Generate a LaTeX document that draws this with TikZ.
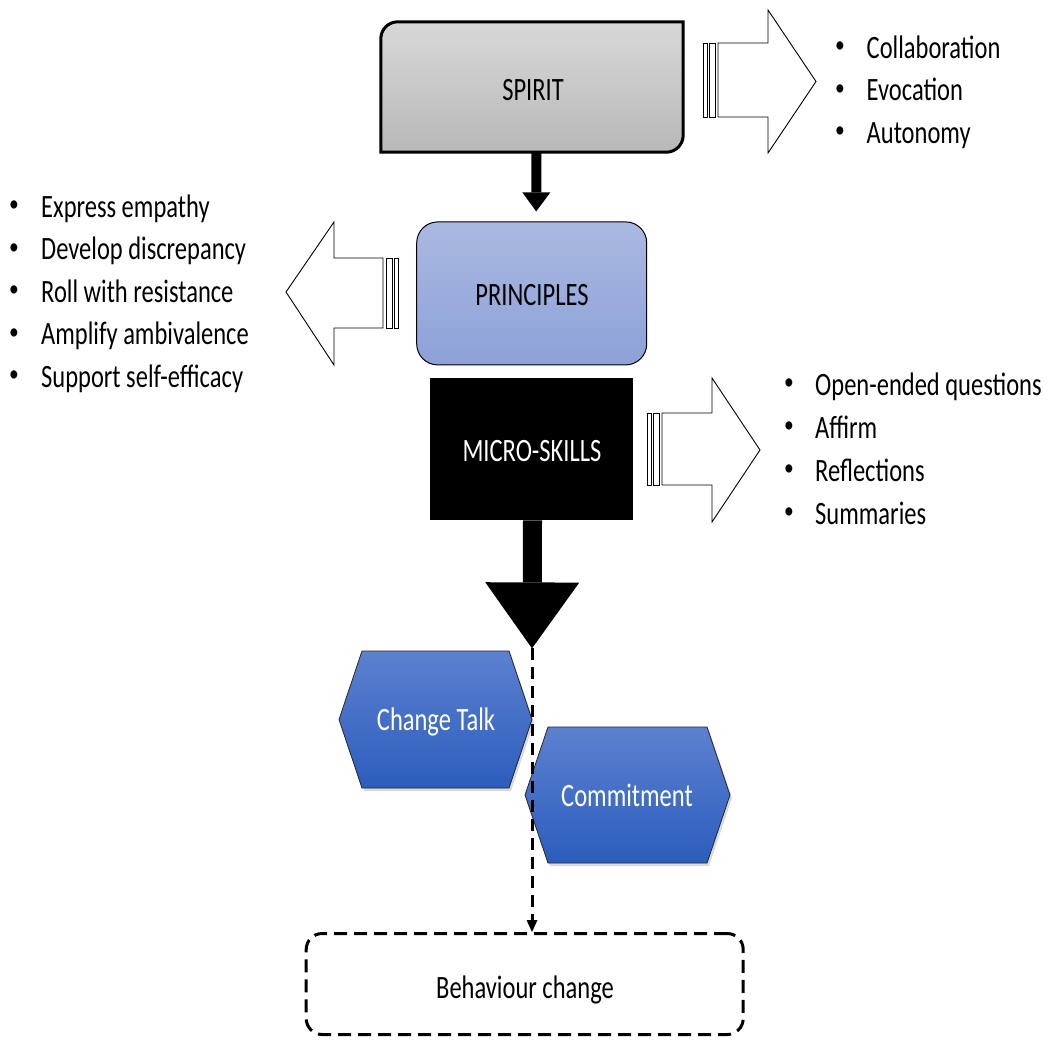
\documentclass[tikz,border=0pt]{standalone}
\usepackage{fontspec}
\setmainfont{Carlito}
\usepackage{graphicx}
\usetikzlibrary{arrows.meta,shadows,calc}

\definecolor{spiritTop}{HTML}{D8D8D8}
\definecolor{spiritBot}{HTML}{B8B8B8}
\definecolor{prinTop}{HTML}{AAB9E1}
\definecolor{prinBot}{HTML}{8DA1D8}
\definecolor{hexTop}{HTML}{5C81D0}
\definecolor{hexBot}{HTML}{2C5DBD}

% tall, narrow lettering
\newcommand\tallt[1]{\scalebox{1}[1.33]{#1}}

\begin{document}
\begin{tikzpicture}[x=1pt,y=-1pt,
  txt/.style={font=\fontsize{24.5}{29}\selectfont, inner sep=0pt, anchor=base},
  item/.style={txt, anchor=base west},
  dot/.style={font=\fontsize{19.5}{22}\selectfont, inner sep=0pt, anchor=center},
  blockarrow/.style={draw=black, line width=0.9pt, fill=white, line join=miter},
  stripe/.style={draw=black, line width=0.9pt, fill=white},
  hexa/.style={draw=black!85, line width=0.8pt, top color=hexTop, bottom color=hexBot,
    drop shadow={opacity=0.3, shadow xshift=2pt, shadow yshift=-3pt}},
  flow/.style={line width=3pt, dash pattern=on 12pt off 7pt,
    -{Triangle[length=12pt,width=11pt,line width=0pt]}},
]
\useasboundingbox (0,0) rectangle (1049,1039);

% ---------- main boxes ----------
\node[minimum width=302pt, minimum height=130pt, inner sep=0pt] (spirit) at (532,87) {};
\draw[line width=3pt, top color=spiritTop, bottom color=spiritBot]
  (spirit.south west) -- (spirit.west) [rounded corners=17pt] -- (spirit.north west)
  -- (spirit.north) [sharp corners] -- (spirit.north east) -- (spirit.east)
  [rounded corners=17pt] -- (spirit.south east) -- (spirit.south) [sharp corners] -- cycle;
\node[txt] (spiritlabel) at (533,100.7) {\tallt{SPIRIT}};

\node[draw=black, line width=1pt, rounded corners=21pt, top color=prinTop, bottom color=prinBot,
  minimum width=230pt, minimum height=143pt] (principles) at (531.7,293.4) {};
\node[txt] (principleslabel) at (532,305) {\tallt{PRINCIPLES}};

\node[fill=black, minimum width=203pt, minimum height=142pt, inner sep=0pt] (micro) at (531.7,449.2) {};
\node[txt, text=white] (microlabel) at (532,461.7) {\tallt{MICRO-SKILLS}};

% ---------- solid downward arrows ----------
\draw[line width=10pt, -{Triangle[length=19pt,width=28pt,line width=0pt]}]
  ($(spirit.south)+(4.5,0)$) -- ($(principles.north)+(4.5,-10)$);

\coordinate (mtip) at ($(micro.south)+(0.3,128)$);
\draw[line width=19pt, -{Triangle[length=66pt,width=94pt,line width=0pt]}]
  ($(micro.south)+(0.8,0)$) -- (mtip);

% ---------- striped block arrows ----------
% SPIRIT -> right
\draw[stripe] (703,43) rectangle (707,117);
\draw[stripe] (709,43) rectangle (715,117);
\draw[blockarrow] (718,43) -- (768,43) -- (768,10) -- (816,81.5) -- (768,153)
  -- (768,117) -- (718,117) -- cycle;

% PRINCIPLES -> left
\draw[stripe] (386,258) rectangle (392,328);
\draw[stripe] (394,258) rectangle (398.5,328);
\draw[blockarrow] (383,258) -- (334,258) -- (334,222) -- (286,292) -- (334,365)
  -- (334,328) -- (383,328) -- cycle;

% MICRO-SKILLS -> right
\draw[stripe] (647,413) rectangle (651,485);
\draw[stripe] (653,413) rectangle (659,485);
\draw[blockarrow] (662,413) -- (712,413) -- (712,378) -- (760,450) -- (712,522)
  -- (712,485) -- (662,485) -- cycle;

% ---------- bullet lists ----------
\foreach \t [count=\i from 0] in {Collaboration, Evocation, Autonomy} {
  \node[dot] (sd\i) at (840,47.5+42.5*\i) {\scalebox{1}[1.2]{•}};
  \node[item] (si\i) at (866.5,58+42.5*\i) {\tallt{\t}};
}
\foreach \t [count=\i from 0] in {Express empathy, Develop discrepancy, Roll with resistance,
    Amplify ambivalence, Support self-efficacy} {
  \node[dot] (pd\i) at (14,206.5+42.5*\i) {\scalebox{1}[1.2]{•}};
  \node[item] (pi\i) at (41,217+42.5*\i) {\tallt{\t}};
}
\foreach \t [count=\i from 0] in {Open-ended questions, Affirm, Reflections, Summaries} {
  \node[dot] (md\i) at (789,384.5+43*\i) {\scalebox{1}[1.2]{•}};
  \node[item] (mi\i) at (815,395+43*\i) {\tallt{\t}};
}

% ---------- hexagons ----------
\path[hexa] (339,719.5) -- (362,651) -- (509,651) -- (532,719.5) -- (509,788) -- (362,788) -- cycle;
\node[txt, text=white] (changetalk) at (436,730.7) {\tallt{Change Talk}};

\path[hexa] (525,795) -- (548,727) -- (707,727) -- (730,795) -- (707,863) -- (548,863) -- cycle;
\node[txt, text=white] (commitment) at (627,806.7) {\tallt{Commitment}};

% ---------- outcome ----------
\node[draw=black, line width=3pt, dash pattern=on 13pt off 7pt, rounded corners=16pt,
  minimum width=437pt, minimum height=101pt] (behav) at (524.7,984) {};
\node[txt] (behavlabel) at (525,998) {\tallt{Behaviour change}};

\draw[flow] (mtip) -- (mtip |- behav.north);

\end{tikzpicture}
\end{document}
